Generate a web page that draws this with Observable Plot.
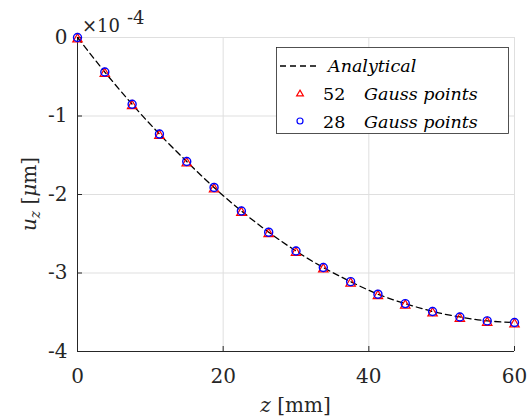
<!DOCTYPE html>
<html>
<head>
<meta charset="utf-8">
<script src="https://cdn.jsdelivr.net/npm/d3@7"></script>
<script src="https://cdn.jsdelivr.net/npm/@observablehq/plot@0.6"></script>
<style>
  html, body { margin: 0; padding: 0; background: #fff; }
  #chart { width: 529px; height: 420px; }
</style>
</head>
<body>
<div id="chart"></div>
<script>
// z positions [mm]
const zValues = [0, 3.75, 7.5, 11.25, 15, 18.75, 22.5, 26.25, 30, 33.75, 37.5, 41.25, 45, 48.75, 52.5, 56.25, 60];
// u_z values (x 10^-4 μm)
const analytical = [0, -0.44, -0.85, -1.23, -1.58, -1.91, -2.21, -2.48, -2.72, -2.93, -3.11, -3.27, -3.39, -3.49, -3.56, -3.61, -3.63];
const gauss52   = [0, -0.44, -0.85, -1.23, -1.58, -1.91, -2.21, -2.48, -2.72, -2.93, -3.11, -3.27, -3.39, -3.49, -3.56, -3.61, -3.63];
const gauss28   = [0, -0.44, -0.85, -1.23, -1.58, -1.91, -2.21, -2.48, -2.72, -2.93, -3.11, -3.27, -3.39, -3.49, -3.56, -3.61, -3.63];
const xTicks = [0, 20, 40, 60];
const yTicks = [0, -1, -2, -3, -4];
const xGrid = [20, 40, 60];
const yGrid = [-3, -2, -1, 0];
const legendLabels = ["Analytical", "52", "28"];

const W = 529, H = 420, mL = 77, mR = 15, mT = 37, mB = 69;
const plotW = W - mL - mR, plotH = H - mT - mB;
const axisColor = "#262626";
const font = "DejaVu Serif";

const rowsA = zValues.map((z, i) => ({z, u: analytical[i]}));
const rows52 = zValues.map((z, i) => ({z, u: gauss52[i]}));
const rows28 = zValues.map((z, i) => ({z, u: gauss28[i]}));

const plot = Plot.plot({
  width: W, height: H,
  marginLeft: mL, marginRight: mR, marginTop: mT, marginBottom: mB,
  style: {fontFamily: font, fontSize: "20px", color: axisColor, background: "#fff", overflow: "visible"},
  x: {domain: [0, 60]},
  y: {domain: [-4, 0]},
  marks: [
    Plot.gridX(xGrid, {stroke: "#dfdfdf", strokeOpacity: 1}),
    Plot.gridY(yGrid, {stroke: "#dfdfdf", strokeOpacity: 1}),
    Plot.ruleX([0], {stroke: axisColor, strokeWidth: 1}),
    Plot.ruleY([-4], {stroke: axisColor, strokeWidth: 1}),
    Plot.tickX(xTicks, {x: d => d, insetTop: plotH - 5, stroke: axisColor}),
    Plot.tickY(yTicks, {y: d => d, insetRight: plotW - 5, stroke: axisColor}),
    Plot.axisX(xTicks, {tickSize: 0, tickPadding: 17, tickFormat: d => String(d), label: null, fontSize: 20, fill: axisColor}),
    Plot.axisY(yTicks, {tickSize: 0, tickPadding: 10, tickFormat: d => String(d), label: null, fontSize: 20, fill: axisColor}),
    Plot.line(rowsA, {x: "z", y: "u", stroke: "#000", strokeWidth: 1.3, strokeDasharray: "6,4", curve: "natural"}),
    Plot.dot(rows52, {x: "z", y: "u", symbol: "triangle", r: 3.5, dy: 1.7, fill: "none", stroke: "#ff0000", strokeWidth: 1.2}),
    Plot.dot(rows28, {x: "z", y: "u", symbol: "circle", r: 4, fill: "none", stroke: "#0000ff", strokeWidth: 1.4})
  ]
});

document.getElementById("chart").appendChild(plot);
const svg = d3.select(plot);

// exponent label
const ex = svg.append("text").attr("font-family", font).attr("fill", axisColor).attr("text-anchor", "start");
ex.append("tspan").attr("x", 82).attr("y", 32).attr("font-size", 18).text("×10");
ex.append("tspan").attr("x", 127).attr("y", 24).attr("font-size", 18).text("-4");

// x label
const xl = svg.append("text").attr("font-family", font).attr("font-size", 20).attr("fill", axisColor)
  .attr("x", mL + plotW / 2).attr("y", 412).attr("text-anchor", "middle");
xl.append("tspan").attr("font-style", "italic").text("z");
xl.append("tspan").text(" [mm]");

// y label
const yl = svg.append("text").attr("font-family", font).attr("font-size", 20).attr("fill", axisColor)
  .attr("text-anchor", "middle").attr("transform", `translate(36,${mT + plotH / 2}) rotate(-90)`);
yl.append("tspan").attr("font-style", "italic").text("u");
yl.append("tspan").attr("font-style", "italic").attr("font-size", 14).attr("dy", 4).text("z");
yl.append("tspan").attr("dy", -4).text(" [");
yl.append("tspan").attr("font-style", "italic").text("μ");
yl.append("tspan").text("m]");

// legend
const lg = svg.append("g").attr("font-family", font).attr("font-size", 17.5).attr("fill", "#000").attr("text-anchor", "start");
lg.append("rect").attr("x", 276.5).attr("y", 47.5).attr("width", 232).attr("height", 86)
  .attr("fill", "#fff").attr("stroke", axisColor).attr("stroke-width", 0.8);
lg.append("line").attr("x1", 280).attr("x2", 320).attr("y1", 66).attr("y2", 66)
  .attr("stroke", "#000").attr("stroke-width", 1.3).attr("stroke-dasharray", "6,4");
lg.append("text").attr("x", 328).attr("y", 72).attr("font-style", "italic").text(legendLabels[0]);
lg.append("path").attr("d", d3.symbol(d3.symbolTriangle, 20)()).attr("transform", "translate(300,94)")
  .attr("fill", "none").attr("stroke", "#ff0000").attr("stroke-width", 1.2);
lg.append("text").attr("x", 323).attr("y", 100).text(legendLabels[1]);
lg.append("text").attr("x", 364).attr("y", 100).attr("font-style", "italic").text("Gauss points");
lg.append("circle").attr("cx", 300).attr("cy", 121).attr("r", 3)
  .attr("fill", "none").attr("stroke", "#0000ff").attr("stroke-width", 1.2);
lg.append("text").attr("x", 323).attr("y", 128).text(legendLabels[2]);
lg.append("text").attr("x", 364).attr("y", 128).attr("font-style", "italic").text("Gauss points");
</script>
</body>
</html>
